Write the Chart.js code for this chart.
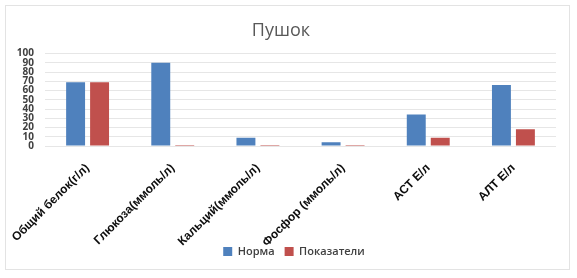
<!DOCTYPE html>
<html>
<head>
<meta charset="utf-8">
<script src="https://cdn.jsdelivr.net/npm/chart.js@4"></script>
<style>
  html, body { margin: 0; padding: 0; background: #fff; }
  #box {
    position: absolute; left: 5px; top: 5px;
    width: 563px; height: 263px;
    border: 1px solid #e3e3e3;
  }
</style>
</head>
<body>
<div id="box"><canvas id="chart"></canvas></div>
<script>
// подписи категорий
const categories = ["Общий белок(г/л)", "Глюкоза(ммоль/л)", "Кальций(ммоль/л)", "Фосфор (ммоль/л)", "АСТ Е/л", "АЛТ Е/л"]
const normaValues = [69, 90, 9, 4, 34, 66]
const pokazateliValues = [69, 1, 1, 1, 9, 18]
const yTicks = [0, 10, 20, 30, 40, 50, 60, 70, 80, 90, 100]

const canvas = document.getElementById('chart')
canvas.width = 563
canvas.height = 263

// легенда чуть правее центра, как в оригинале
const shiftLegend = {
  id: 'shiftLegend',
  afterLayout(chart) {
    if (chart.legend) {
      chart.legend.left += 13
      chart.legend.right += 13
    }
  }
}

const chart = new Chart(canvas.getContext('2d'), {
  type: 'bar',
  data: {
    labels: categories,
    datasets: [
      { label: 'Норма', data: normaValues, backgroundColor: '#4f81bd', categoryPercentage: 0.563, barPercentage: 0.79 },
      { label: 'Показатели', data: pokazateliValues, backgroundColor: '#c0504d', categoryPercentage: 0.563, barPercentage: 0.79 }
    ]
  },
  plugins: [shiftLegend],
  options: {
    responsive: false,
    animation: false,
    layout: { padding: { left: 0, right: 13, top: 0, bottom: 2 } },
    plugins: {
      title: {
        display: true,
        text: 'Пушок',
        color: '#595959',
        font: { family: 'Open Sans', size: 18, weight: 'normal' },
        padding: { top: 14, bottom: 12 }
      },
      legend: {
        position: 'bottom',
        labels: {
          boxWidth: 9, boxHeight: 9,
          color: '#404040',
          font: { family: 'Open Sans', size: 11, weight: '600' },
          padding: 10
        }
      },
      tooltip: { enabled: false }
    },
    scales: {
      x: {
        grid: { display: false },
        border: { display: false },
        afterFit: (axis) => {
          axis.height = 90
          axis.paddingLeft = 0
          axis.paddingRight = 0
          // подписи заходят в область легенды, не обрезаем их
          axis._computeLabelArea = () => undefined
        },
        ticks: {
          color: '#0d0d0d',
          maxRotation: 45, minRotation: 45,
          font: { family: 'Liberation Sans Narrow, Liberation Sans', size: 12, weight: 'bold' },
          padding: 7
        }
      },
      y: {
        min: 0, max: 100,
        afterBuildTicks: (axis) => { axis.ticks = yTicks.map(v => ({ value: v })) },
        afterFit: (axis) => { axis.width = 39 },
        grid: { color: '#e6e6e6', drawTicks: false },
        border: { display: false },
        ticks: {
          autoSkip: false,
          color: '#404040',
          padding: 11,
          font: { family: 'Open Sans', size: 10, weight: 'bold' }
        }
      }
    }
  }
})
</script>
</body>
</html>
